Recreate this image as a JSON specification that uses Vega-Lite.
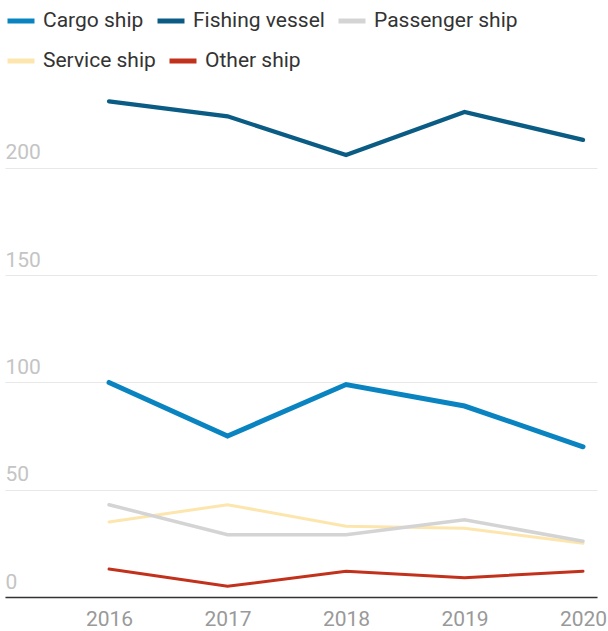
{
  "$schema": "https://vega.github.io/schema/vega-lite/v6.json",
  "width": 592,
  "height": 515,
  "autosize": "none",
  "padding": {"left": 5, "top": 82, "right": 11, "bottom": 34},
  "background": "white",
  "config": {"font": "Roboto", "view": {"stroke": null}},
  "data": {
    "values": [
      {"year": 2016, "type": "Cargo ship", "count": 100},
      {"year": 2017, "type": "Cargo ship", "count": 75},
      {"year": 2018, "type": "Cargo ship", "count": 99},
      {"year": 2019, "type": "Cargo ship", "count": 89},
      {"year": 2020, "type": "Cargo ship", "count": 70},
      {"year": 2016, "type": "Fishing vessel", "count": 231},
      {"year": 2017, "type": "Fishing vessel", "count": 224},
      {"year": 2018, "type": "Fishing vessel", "count": 206},
      {"year": 2019, "type": "Fishing vessel", "count": 226},
      {"year": 2020, "type": "Fishing vessel", "count": 213},
      {"year": 2016, "type": "Passenger ship", "count": 43},
      {"year": 2017, "type": "Passenger ship", "count": 29},
      {"year": 2018, "type": "Passenger ship", "count": 29},
      {"year": 2019, "type": "Passenger ship", "count": 36},
      {"year": 2020, "type": "Passenger ship", "count": 26},
      {"year": 2016, "type": "Service ship", "count": 35},
      {"year": 2017, "type": "Service ship", "count": 43},
      {"year": 2018, "type": "Service ship", "count": 33},
      {"year": 2019, "type": "Service ship", "count": 32},
      {"year": 2020, "type": "Service ship", "count": 25},
      {"year": 2016, "type": "Other ship", "count": 13},
      {"year": 2017, "type": "Other ship", "count": 5},
      {"year": 2018, "type": "Other ship", "count": 12},
      {"year": 2019, "type": "Other ship", "count": 9},
      {"year": 2020, "type": "Other ship", "count": 12}
    ]
  },
  "encoding": {
    "x": {
      "field": "year",
      "type": "quantitative",
      "scale": {"domain": [2015.122, 2020.118], "nice": false, "zero": false},
      "axis": {
        "title": null,
        "values": [2016, 2017, 2018, 2019, 2020],
        "format": "d",
        "grid": false,
        "ticks": false,
        "domain": true,
        "domainColor": "#333333",
        "domainWidth": 1.5,
        "labelFont": "Roboto",
        "labelFontSize": 21,
        "labelColor": "#999999",
        "labelPadding": 11,
        "labelFlush": false
      }
    },
    "y": {
      "field": "count",
      "type": "quantitative",
      "scale": {"domain": [0, 240], "nice": false},
      "axis": {
        "title": null,
        "values": [0, 50, 100, 150, 200],
        "grid": true,
        "gridColor": "#e8e8e8",
        "gridWidth": 1,
        "ticks": false,
        "domain": false,
        "labelAlign": "left",
        "labelBaseline": "alphabetic",
        "labelPadding": 0,
        "labelOffset": -9,
        "labelFont": "Roboto",
        "labelFontSize": 21,
        "labelColor": "#c4c4c4"
      }
    }
  },
  "layer": [
    {
      "transform": [{"filter": {"field": "type", "oneOf": ["Service ship", "Other ship"]}}],
      "mark": {"type": "line", "strokeCap": "round", "strokeJoin": "miter", "strokeWidth": 3},
      "encoding": {
        "color": {
          "field": "type",
          "type": "nominal",
          "scale": {"domain": ["Service ship", "Other ship"], "range": ["#fde6ad", "#c2311c"]},
          "legend": {
            "title": null,
            "orient": "none",
            "legendX": 0,
            "legendY": -37,
            "direction": "horizontal",
            "symbolType": "stroke",
            "symbolSize": 729,
            "symbolStrokeWidth": 5,
            "labelFont": "Roboto",
            "labelFontSize": 21,
            "labelColor": "#333333",
            "labelOffset": 6,
            "columnPadding": 3
          }
        }
      }
    },
    {
      "transform": [{"filter": {"field": "type", "oneOf": ["Cargo ship", "Fishing vessel", "Passenger ship"]}}],
      "mark": {"type": "line", "strokeCap": "round", "strokeJoin": "miter"},
      "encoding": {
        "color": {
          "field": "type",
          "type": "nominal",
          "scale": {"domain": ["Cargo ship", "Fishing vessel", "Passenger ship"], "range": ["#0a84c1", "#0b5c84", "#d4d4d4"]},
          "legend": {
            "title": null,
            "orient": "none",
            "legendX": 0,
            "legendY": -77,
            "direction": "horizontal",
            "symbolType": "stroke",
            "symbolSize": 729,
            "symbolStrokeWidth": 5,
            "labelFont": "Roboto",
            "labelFontSize": 21,
            "labelColor": "#333333",
            "labelOffset": 6,
            "columnPadding": 3
          }
        },
        "strokeWidth": {
          "field": "type",
          "type": "nominal",
          "scale": {"domain": ["Cargo ship", "Fishing vessel", "Passenger ship"], "range": [5, 3.5, 3]},
          "legend": null
        }
      }
    }
  ],
  "resolve": {"scale": {"color": "independent"}, "legend": {"color": "independent"}}
}
